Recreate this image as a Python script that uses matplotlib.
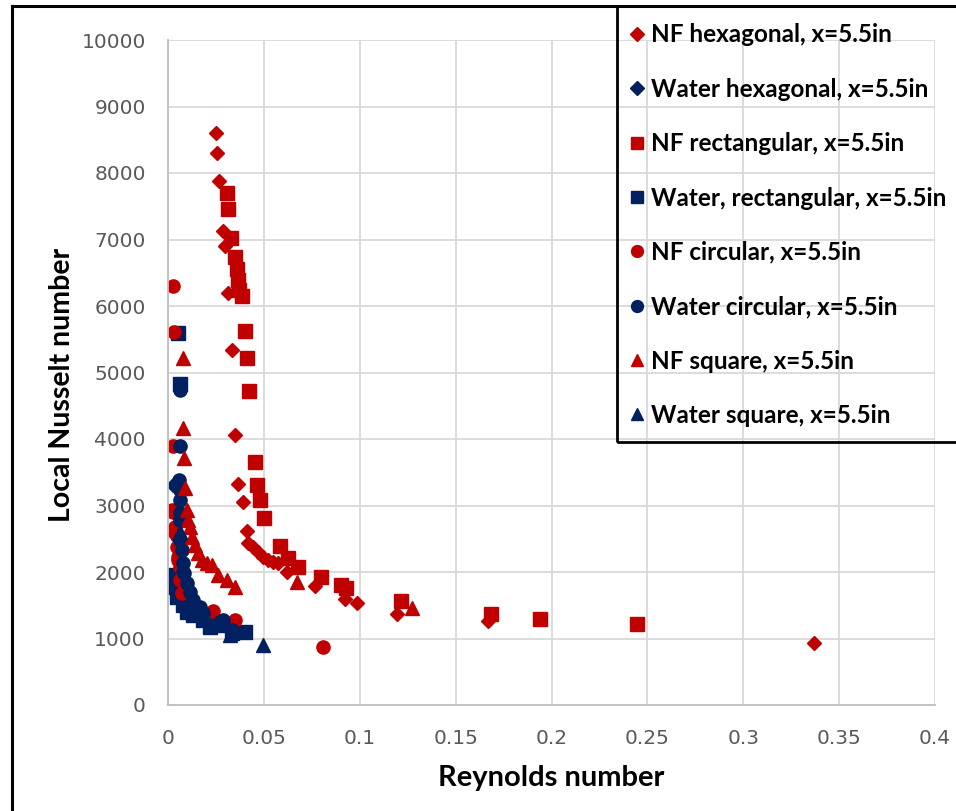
import matplotlib.pyplot as plt
from matplotlib.lines import Line2D
from matplotlib.patches import Rectangle

RED = "#C00000"
NAVY = "#002060"

# NF hexagonal
nf_hex_x = [0.0249, 0.0254, 0.0268, 0.0289, 0.0297, 0.0315, 0.0336, 0.0348, 0.0365, 0.0389,
            0.0414, 0.0419, 0.0445, 0.0471, 0.0497, 0.0523, 0.055, 0.0575, 0.0619, 0.0768,
            0.0924, 0.0985, 0.1195, 0.1671, 0.337]
nf_hex_y = [8606, 8305, 7880, 7132, 6902, 6191, 5338, 4060, 3323, 3053,
            2617, 2441, 2381, 2306, 2230, 2180, 2155, 2130, 2005, 1789,
            1598, 1528, 1362, 1261, 935]

# Water hexagonal
w_hex_x = [0.0024, 0.004, 0.005, 0.006, 0.008, 0.011, 0.015, 0.02, 0.026]
w_hex_y = [3308, 2900, 2500, 2200, 1900, 1650, 1450, 1300, 1200]

# NF rectangular
nf_rect_x = [0.0306, 0.0311, 0.0327, 0.0349, 0.0358, 0.0363, 0.0372, 0.0384, 0.0402, 0.041,
             0.0422, 0.0454, 0.0462, 0.048, 0.05, 0.0584, 0.0624, 0.0676, 0.0798, 0.0903,
             0.0929, 0.1216, 0.1682, 0.1942, 0.2444]
nf_rect_y = [7694, 7463, 7027, 6741, 6551, 6391, 6241, 6150, 5629, 5223,
             4727, 3654, 3308, 3083, 2817, 2391, 2206, 2080, 1930, 1799,
             1764, 1563, 1362, 1286, 1211]

# Water rectangular
w_rect_x = [0.0054, 0.0063, 0.0028, 0.0037, 0.0045, 0.008, 0.0097, 0.0132, 0.0184, 0.0219,
            0.0271, 0.0332, 0.0402]
w_rect_y = [5598, 4820, 1955, 1779, 1629, 1504, 1403, 1353, 1278, 1177,
            1203, 1078, 1102]

# NF circular
nf_circ_x = [0.0028, 0.0031, 0.0024, 0.0019, 0.0024, 0.0037, 0.0037, 0.0045, 0.0054, 0.0054,
             0.0063, 0.0063, 0.0071, 0.0236, 0.0349, 0.081]
nf_circ_y = [6301, 5614, 3900, 2932, 2907, 2681, 2581, 2381, 2230, 2180,
             2080, 1880, 1680, 1418, 1278, 869]

# Water circular
w_circ_x = [0.0063, 0.0063, 0.0059, 0.0063, 0.0063, 0.0063, 0.0063, 0.0063, 0.0071, 0.0077,
            0.0083, 0.0097, 0.0115, 0.0132, 0.0167, 0.0184, 0.0289, 0.0332]
w_circ_y = [4740, 3900, 3383, 3233, 3083, 2882, 2782, 2481, 2331, 2130,
            1980, 1830, 1704, 1579, 1478, 1379, 1278, 1128]

# NF square
nf_sq_x = [0.0077, 0.008, 0.0083, 0.0089, 0.0097, 0.0106, 0.0115, 0.0124, 0.0141, 0.0158,
           0.0176, 0.0202, 0.0228, 0.0262, 0.0306, 0.0349, 0.0671, 0.127]
nf_sq_y = [5213, 4160, 3710, 3258, 2932, 2782, 2681, 2531, 2406, 2281,
           2180, 2130, 2105, 1955, 1880, 1779, 1855, 1462]

# Water square
w_sq_x = [0.006, 0.008, 0.012, 0.018, 0.025, 0.0323, 0.0497]
w_sq_y = [2600, 2100, 1600, 1350, 1230, 1053, 902]

labels = ["NF hexagonal, x=5.5in", "Water hexagonal, x=5.5in", "NF rectangular, x=5.5in",
          "Water, rectangular, x=5.5in", "NF circular, x=5.5in", "Water circular, x=5.5in",
          "NF square, x=5.5in", "Water square, x=5.5in"]
x_ticks = [0, 0.05, 0.1, 0.15, 0.2, 0.25, 0.3, 0.35, 0.4]
y_ticks = list(range(0, 10001, 1000))

series = [
    (nf_hex_x, nf_hex_y, "D", 7.5, RED),
    (w_hex_x, w_hex_y, "D", 7.5, NAVY),
    (nf_rect_x, nf_rect_y, "s", 10, RED),
    (w_rect_x, w_rect_y, "s", 10, NAVY),
    (nf_circ_x, nf_circ_y, "o", 9.5, RED),
    (w_circ_x, w_circ_y, "o", 9.5, NAVY),
    (nf_sq_x, nf_sq_y, "^", 9.5, RED),
    (w_sq_x, w_sq_y, "^", 9.5, NAVY),
]

fig = plt.figure(figsize=(9.56, 8.11), dpi=100)
ax = fig.add_axes([168/956, 1-705/811, (935-168)/956, (705-40)/811])

for (xs, ys, m, ms, c), lab in zip(series, labels):
    ax.plot(xs, ys, linestyle="none", marker=m, markersize=ms, color=c, label=lab)

ax.set_xlim(0, 0.4)
ax.set_ylim(0, 10000)
ax.set_xticks(x_ticks)
ax.set_xticklabels(["%g" % t for t in x_ticks])
ax.set_yticks(y_ticks)
ax.grid(True, color="#d9d9d9", linewidth=1.3)
ax.set_axisbelow(True)
ax.tick_params(length=0, labelsize=14.5, labelcolor="#595959", pad=16)
ax.tick_params(axis="x", pad=17)
for side in ["top", "right"]:
    ax.spines[side].set_visible(False)
for side in ["left", "bottom"]:
    ax.spines[side].set_color("#bfbfbf")
    ax.spines[side].set_linewidth(1.3)

ax.set_xlabel("Reynolds number", fontsize=21, fontweight="bold", family="Lato")
ax.set_ylabel("Local Nusselt number", fontsize=20.5, fontweight="bold", family="Lato")
ax.xaxis.set_label_coords(0.4994, -0.11)
ax.yaxis.set_label_coords(-0.138, 0.481)
ax.xaxis.label.set_va("center")
ax.yaxis.label.set_va("center")

leg_handles = [Line2D([], [], linestyle="none", marker=m, markersize=ms*0.9, color=c)
               for (_, _, m, ms, c) in series]
fig.legend(leg_handles, labels, loc="upper left", bbox_to_anchor=(628/956, 1-23.5/811),
           frameon=False, borderpad=0, borderaxespad=0, handlelength=0.7, handletextpad=0.25,
           labelspacing=1.29, prop={"family": "Lato", "weight": "bold", "size": 17.5})

# legend frame and figure border
fig.add_artist(Rectangle((617/956, 1-442/811), 0.5, (442-6)/811, transform=fig.transFigure,
                         fill=False, edgecolor="black", linewidth=2))
fig.add_artist(Line2D([12/956, 12/956], [0, 1-6/811], transform=fig.transFigure,
                      color="black", linewidth=2.2))
fig.add_artist(Line2D([12/956, 1], [1-6/811, 1-6/811], transform=fig.transFigure,
                      color="black", linewidth=2.2))

fig.savefig("out.png", dpi=100)
